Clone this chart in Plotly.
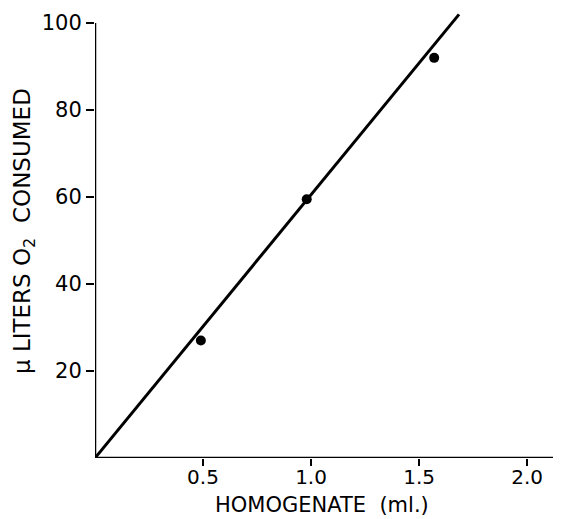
import plotly.graph_objects as go

# Data
homogenate_ml = [0.49, 0.98, 1.57]
o2_consumed = [27.0, 59.5, 92.0]

fit_x = [0.0, 1.685]
fit_y = [0.0, 102.0]

x_tick_vals = [0.5, 1.0, 1.5, 2.0]
x_tick_text = ["0.5", "1.0", "1.5", "2.0"]
y_tick_vals = [20, 40, 60, 80, 100]
y_tick_text = ["20", "40", "60", "80", "100"]

FONT = "DejaVu Sans"

fig = go.Figure()
fig.add_trace(go.Scatter(x=fit_x, y=fit_y, mode="lines",
                         line=dict(color="black", width=3), showlegend=False))
fig.add_trace(go.Scatter(x=homogenate_ml, y=o2_consumed, mode="markers",
                         marker=dict(color="black", size=10), showlegend=False))

# axis lines (y-axis stops at 100)
fig.add_shape(type="line", xref="x", yref="y", x0=0, x1=0, y0=0, y1=100,
              line=dict(color="black", width=2.5))
fig.add_shape(type="line", xref="paper", yref="y", x0=0, x1=1, y0=0, y1=0,
              line=dict(color="black", width=2.5))

# page body adds an 8px offset, so the figure is 8px smaller
fig.update_layout(
    width=553, height=511,
    margin=dict(l=87, r=0, t=2, b=61),
    plot_bgcolor="white", paper_bgcolor="white",
    font=dict(family=FONT, color="black"),
    xaxis=dict(range=[0, 2.157], showgrid=False, zeroline=False, showline=False,
               tickvals=x_tick_vals, ticktext=x_tick_text, ticks="outside",
               ticklen=7, tickwidth=2, tickcolor="black", ticklabelstandoff=-6,
               tickfont=dict(size=20, family=FONT)),
    yaxis=dict(range=[0, 103], showgrid=False, zeroline=False, showline=False,
               tickvals=y_tick_vals, ticktext=y_tick_text, ticks="outside",
               ticklen=8, tickwidth=2, tickcolor="black",
               tickfont=dict(size=21, family=FONT)),
    annotations=[
        dict(text="HOMOGENATE  (ml.)", xref="paper", yref="paper",
             x=0.487, y=-0.105, xanchor="center", yanchor="middle",
             showarrow=False, font=dict(size=21, family=FONT)),
        dict(text="μ LITERS O<sub>2</sub>  CONSUMED", xref="paper", yref="paper",
             x=-0.152, y=0.507, xanchor="center", yanchor="middle",
             textangle=-90, showarrow=False, font=dict(size=23, family=FONT)),
    ],
)

fig.write_html("out.html")
